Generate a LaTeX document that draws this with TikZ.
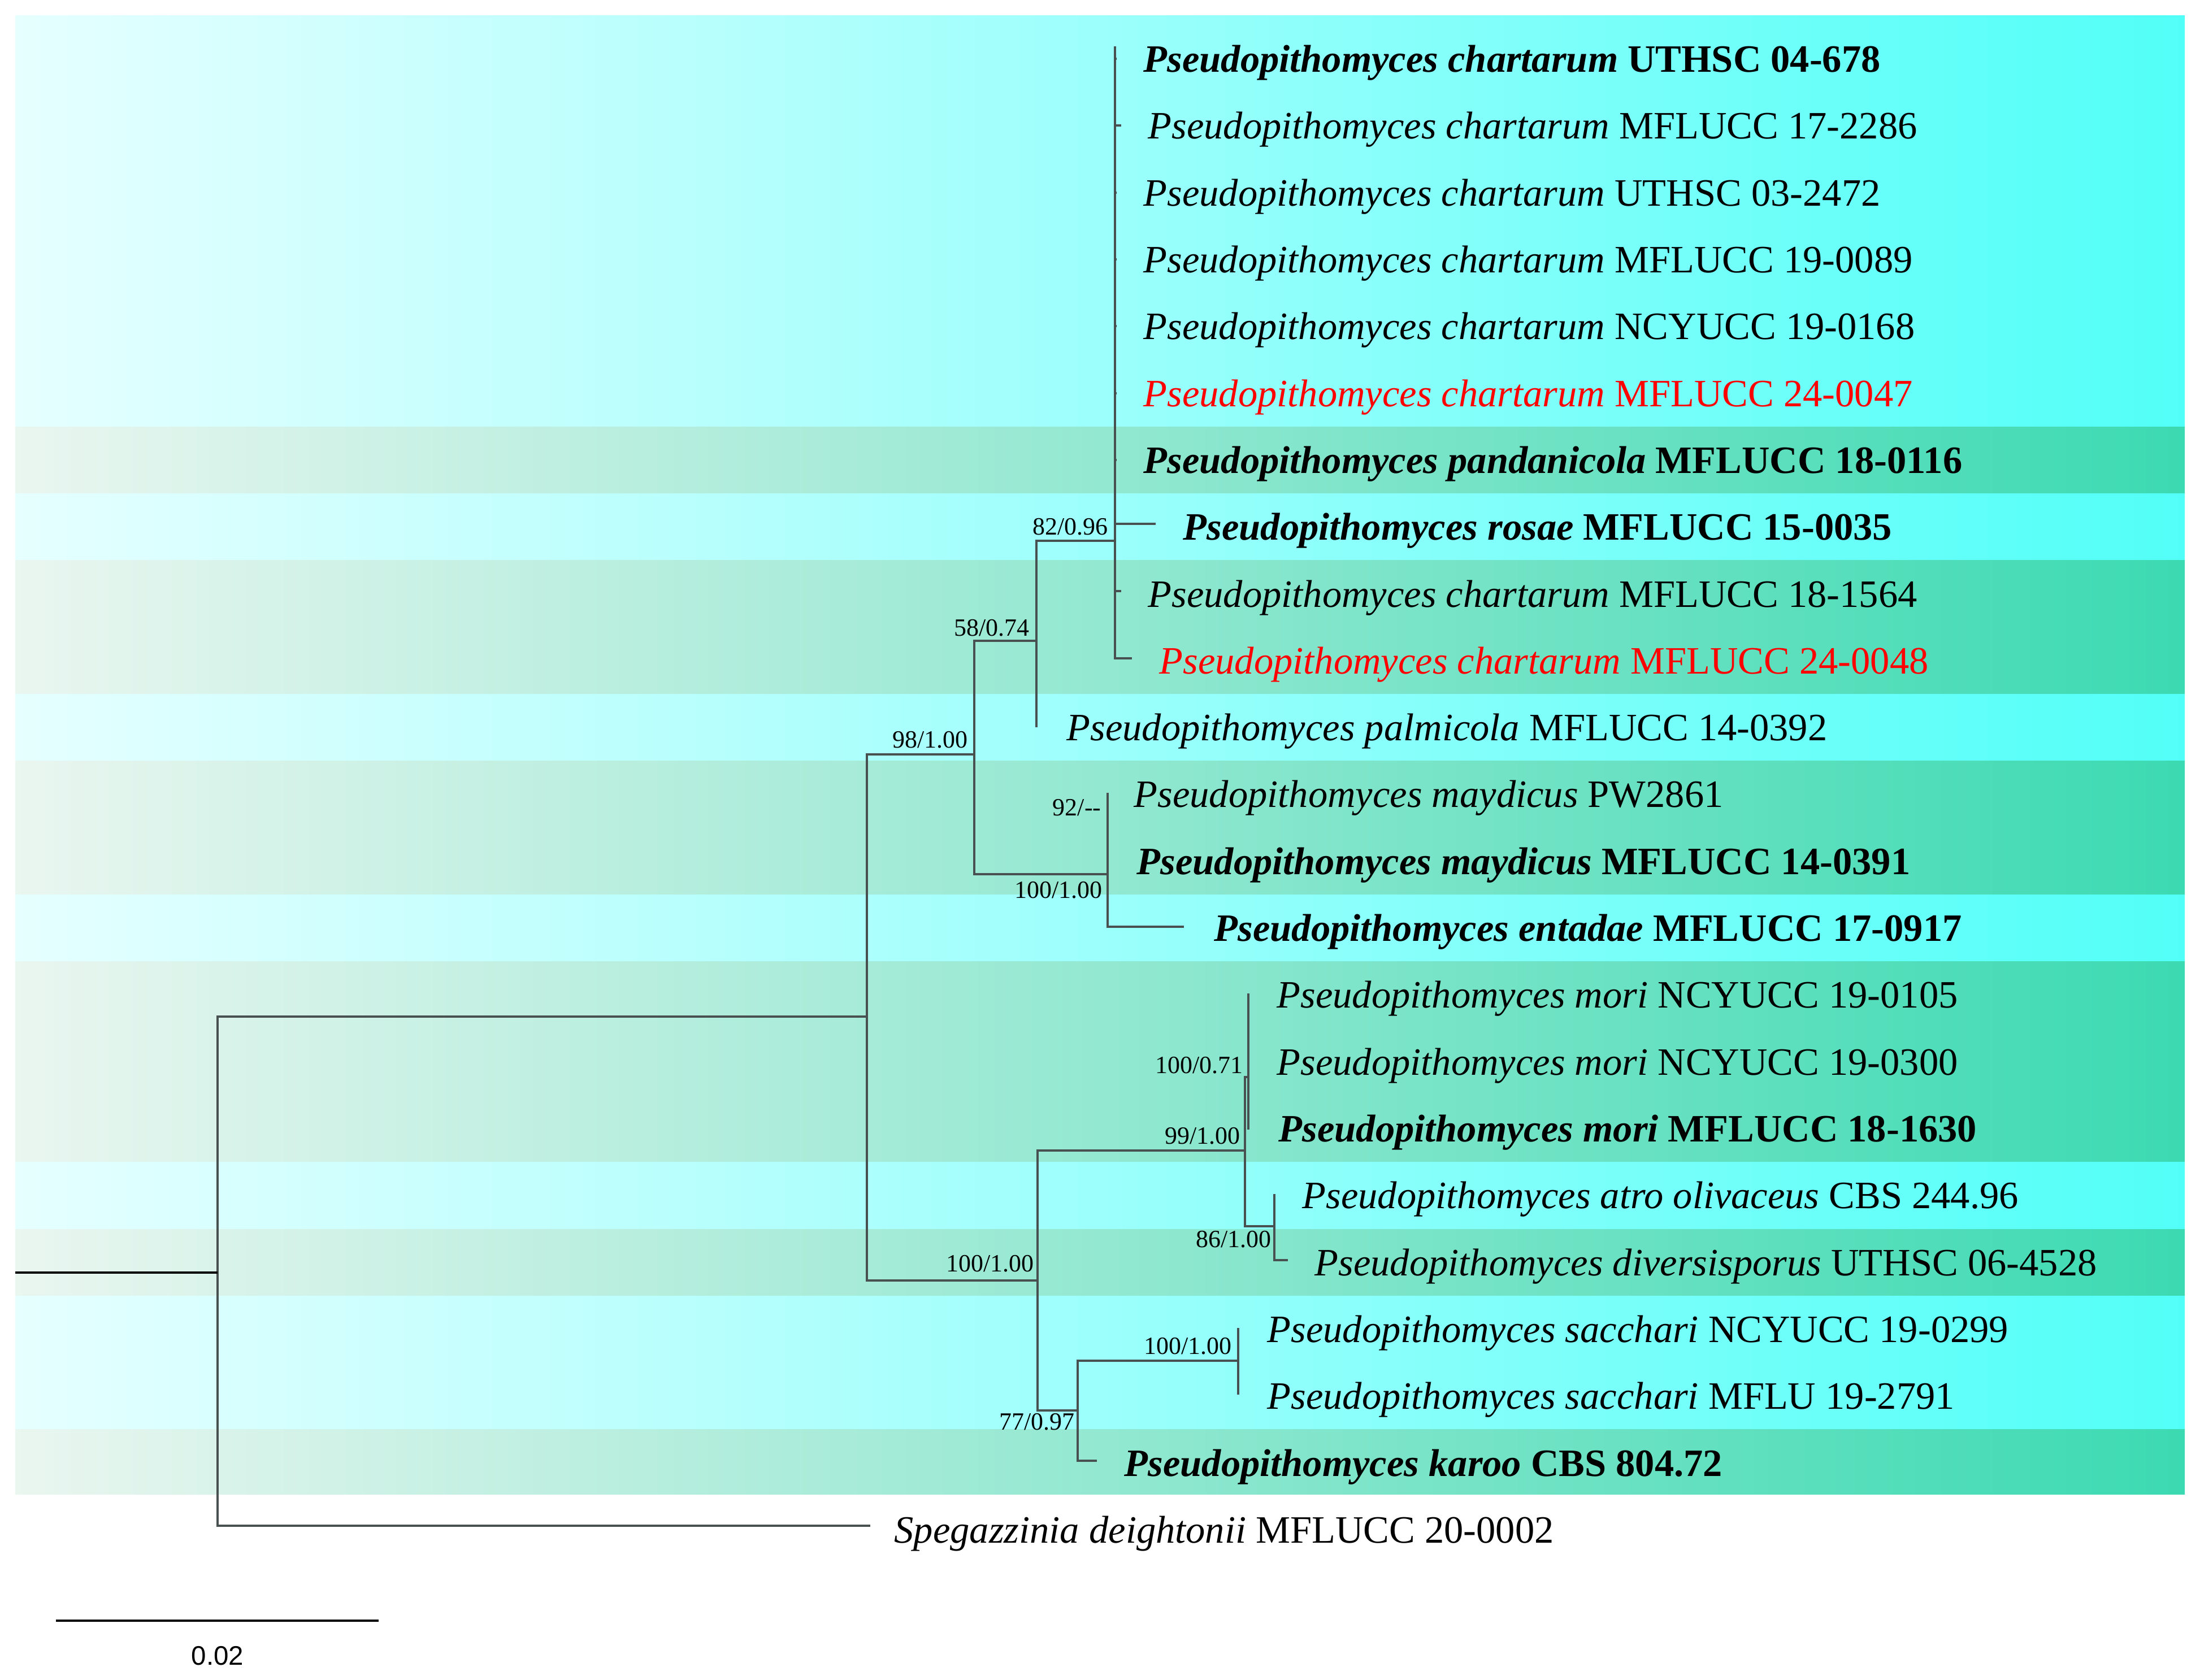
\documentclass[tikz,border=0pt]{standalone}
\usepackage{fontspec}
\setmainfont{Liberation Serif}
\newfontfamily\barfont{Liberation Sans}

\definecolor{cyL}{RGB}{230,255,255}
\definecolor{cyM}{RGB}{182,255,254}
\definecolor{cyR}{RGB}{82,255,248}
\definecolor{grL}{RGB}{234,246,240}
\definecolor{grM}{RGB}{178,238,220}
\definecolor{grR}{RGB}{60,218,178}
\definecolor{brcol}{RGB}{72,80,80}
\definecolor{newred}{RGB}{255,0,0}

\begin{document}
\begin{tikzpicture}[x=1cm, y=-1cm,
        br/.style={to path={|- (\tikztotarget)}},
        taxon/.style={anchor=base west, inner sep=0pt, font=\fontsize{19.5}{23}\selectfont},
        supp/.style={anchor=base east, inner sep=0pt, font=\fontsize{12.5}{15}\selectfont},
        cyband/.style={left color=cyL, middle color=cyM, right color=cyR},
        grband/.style={left color=grL, middle color=grM, right color=grR}]
                \useasboundingbox (0,0) rectangle (38.93,29.73);

                % bands behind the taxa
                \shade[cyband] (0.27,0.27) rectangle (38.66,7.55);
                \shade[grband] (0.27,7.55) rectangle (38.66,8.73);
                \shade[cyband] (0.27,8.73) rectangle (38.66,9.91);
                \shade[grband] (0.27,9.91) rectangle (38.66,12.28);
                \shade[cyband] (0.27,12.28) rectangle (38.66,13.46);
                \shade[grband] (0.27,13.46) rectangle (38.66,15.83);
                \shade[cyband] (0.27,15.83) rectangle (38.66,17.01);
                \shade[grband] (0.27,17.01) rectangle (38.66,20.56);
                \shade[cyband] (0.27,20.56) rectangle (38.66,21.75);
                \shade[grband] (0.27,21.75) rectangle (38.66,22.93);
                \shade[cyband] (0.27,22.93) rectangle (38.66,25.29);
                \shade[grband] (0.27,25.29) rectangle (38.66,26.44);

                \begin{scope}[color=brcol, line width=0.9pt]
                        \coordinate (R) at (3.85,22.52);
                        \coordinate (A) at (15.34,17.99);
                        \coordinate (B) at (17.24,13.35);
                        \coordinate (C) at (18.36,22.66);
                        \coordinate (D) at (18.34,11.34);
                        \coordinate (E) at (19.60,15.47);
                        \coordinate (F) at (19.60,14.52);
                        \coordinate (G) at (19.73,9.57);
                        \coordinate (H) at (22.03,20.36);
                        \coordinate (J) at (22.09,19.06);
                        \coordinate (K) at (22.55,21.70);
                        \coordinate (I) at (19.07,24.96);
                        \coordinate (L) at (21.91,24.08);

                        \coordinate (t0) at (19.73,0.82);
                        \coordinate (t1) at (19.76,1.04);
                        \coordinate (t2) at (19.84,2.22);
                        \coordinate (t3) at (19.76,3.41);
                        \coordinate (t4) at (19.76,4.59);
                        \coordinate (t5) at (19.76,5.77);
                        \coordinate (t6) at (19.76,6.96);
                        \coordinate (t7) at (19.76,8.14);
                        \coordinate (t8) at (20.45,9.27);
                        \coordinate (t9) at (19.84,10.46);
                        \coordinate (t10) at (20.03,11.65);
                        \coordinate (t11) at (18.34,12.87);
                        \coordinate (t12) at (19.62,14.05);
                        \coordinate (t13) at (19.62,15.24);
                        \coordinate (t14) at (20.95,16.40);
                        \coordinate (t15) at (22.11,17.60);
                        \coordinate (t16) at (22.11,18.79);
                        \coordinate (t17) at (22.11,19.97);
                        \coordinate (t18) at (22.57,21.15);
                        \coordinate (t19) at (22.79,22.30);
                        \coordinate (t20) at (21.93,23.52);
                        \coordinate (t21) at (21.93,24.66);
                        \coordinate (t22) at (19.41,25.85);
                        \coordinate (t23) at (15.40,27.00);

                        \path (R) edge[br] (A);
                        \path (R) edge[br] (t23);
                        \path (A) edge[br] (B);
                        \path (A) edge[br] (C);
                        \path (B) edge[br] (D);
                        \path (B) edge[br] (E);
                        \path (D) edge[br] (G);
                        \path (D) edge[br] (t11);
                        \path (G) edge (t0);
                        \path (G) edge[br] (t1);
                        \path (G) edge[br] (t2);
                        \path (G) edge[br] (t3);
                        \path (G) edge[br] (t4);
                        \path (G) edge[br] (t5);
                        \path (G) edge[br] (t6);
                        \path (G) edge[br] (t7);
                        \path (G) edge[br] (t8);
                        \path (G) edge[br] (t9);
                        \path (G) edge[br] (t10);
                        \path (E) edge[br] (F);
                        \path (E) edge[br] (t14);
                        \path (F) edge[br] (t12);
                        \path (F) edge[br] (t13);
                        \path (C) edge[br] (H);
                        \path (C) edge[br] (I);
                        \path (H) edge[br] (J);
                        \path (H) edge[br] (K);
                        \path (J) edge[br] (t15);
                        \path (J) edge[br] (t16);
                        \path (J) edge[br] (t17);
                        \path (K) edge[br] (t18);
                        \path (K) edge[br] (t19);
                        \path (I) edge[br] (L);
                        \path (I) edge[br] (t22);
                        \path (L) edge[br] (t20);
                        \path (L) edge[br] (t21);
                \end{scope}
                \coordinate (r0) at (0.27,22.52);
                \draw[line width=1.4pt] (r0) -- (R);

                % support values
                \node[supp] (sB) at (17.13,13.23) {98/1.00};
                \node[supp] (sD) at (18.22,11.25) {58/0.74};
                \node[supp] (sG) at (19.61,9.46) {82/0.96};
                \node[supp] (sF) at (19.49,14.43) {92/{-}{-}};
                \node[supp] (sE) at (19.51,15.89) {100/1.00};
                \node[supp] (sC) at (18.30,22.50) {100/1.00};
                \node[supp] (sH) at (21.95,20.24) {99/1.00};
                \node[supp] (sJ) at (22.00,18.99) {100/0.71};
                \node[supp] (sK) at (22.50,22.07) {86/1.00};
                \node[supp] (sL) at (21.80,23.96) {100/1.00};
                \node[supp] (sI) at (19.02,25.30) {77/0.97};

                % taxa
                \node[taxon] (n1) at (20.23,1.27) {\textbf{\textit{Pseudopithomyces chartarum} UTHSC 04-678}};
                \node[taxon] (n2) at (20.31,2.45) {\textit{Pseudopithomyces chartarum} MFLUCC 17-2286};
                \node[taxon] (n3) at (20.23,3.64) {\textit{Pseudopithomyces chartarum} UTHSC 03-2472};
                \node[taxon] (n4) at (20.23,4.82) {\textit{Pseudopithomyces chartarum} MFLUCC 19-0089};
                \node[taxon] (n5) at (20.23,6.00) {\textit{Pseudopithomyces chartarum} NCYUCC 19-0168};
                \node[taxon, text=newred] (n6) at (20.23,7.19) {\textit{Pseudopithomyces chartarum} MFLUCC 24-0047};
                \node[taxon] (n7) at (20.23,8.37) {\textbf{\textit{Pseudopithomyces pandanicola} MFLUCC 18-0116}};
                \node[taxon] (n8) at (20.93,9.55) {\textbf{\textit{Pseudopithomyces rosae} MFLUCC 15-0035}};
                \node[taxon] (n9) at (20.31,10.74) {\textit{Pseudopithomyces chartarum} MFLUCC 18-1564};
                \node[taxon, text=newred] (n10) at (20.51,11.92) {\textit{Pseudopithomyces chartarum} MFLUCC 24-0048};
                \node[taxon] (n11) at (18.87,13.10) {\textit{Pseudopithomyces palmicola} MFLUCC 14-0392};
                \node[taxon] (n12) at (20.06,14.28) {\textit{Pseudopithomyces maydicus} PW2861};
                \node[taxon] (n13) at (20.11,15.47) {\textbf{\textit{Pseudopithomyces maydicus} MFLUCC 14-0391}};
                \node[taxon] (n14) at (21.48,16.65) {\textbf{\textit{Pseudopithomyces entadae} MFLUCC 17-0917}};
                \node[taxon] (n15) at (22.59,17.83) {\textit{Pseudopithomyces mori} NCYUCC 19-0105};
                \node[taxon] (n16) at (22.59,19.02) {\textit{Pseudopithomyces mori} NCYUCC 19-0300};
                \node[taxon] (n17) at (22.62,20.20) {\textbf{\textit{Pseudopithomyces mori} MFLUCC 18-1630}};
                \node[taxon] (n18) at (23.04,21.38) {\textit{Pseudopithomyces atro olivaceus} CBS 244.96};
                \node[taxon] (n19) at (23.26,22.57) {\textit{Pseudopithomyces diversisporus} UTHSC 06-4528};
                \node[taxon] (n20) at (22.42,23.75) {\textit{Pseudopithomyces sacchari} NCYUCC 19-0299};
                \node[taxon] (n21) at (22.42,24.93) {\textit{Pseudopithomyces sacchari} MFLU 19-2791};
                \node[taxon] (n22) at (19.89,26.12) {\textbf{\textit{Pseudopithomyces karoo} CBS 804.72}};
                \node[taxon] (n23) at (15.82,27.30) {\textit{Spegazzinia deightonii} MFLUCC 20-0002};

                % scale bar
                \coordinate (b1) at (0.99,28.68);
                \coordinate (b2) at (6.70,28.68);
                \draw[line width=1.4pt] (b1) -- (b2);
                \node[font=\barfont\fontsize{13.5}{16}\selectfont] (bl) at (3.85,29.30) {0.02};
        \end{tikzpicture}
\end{document}
